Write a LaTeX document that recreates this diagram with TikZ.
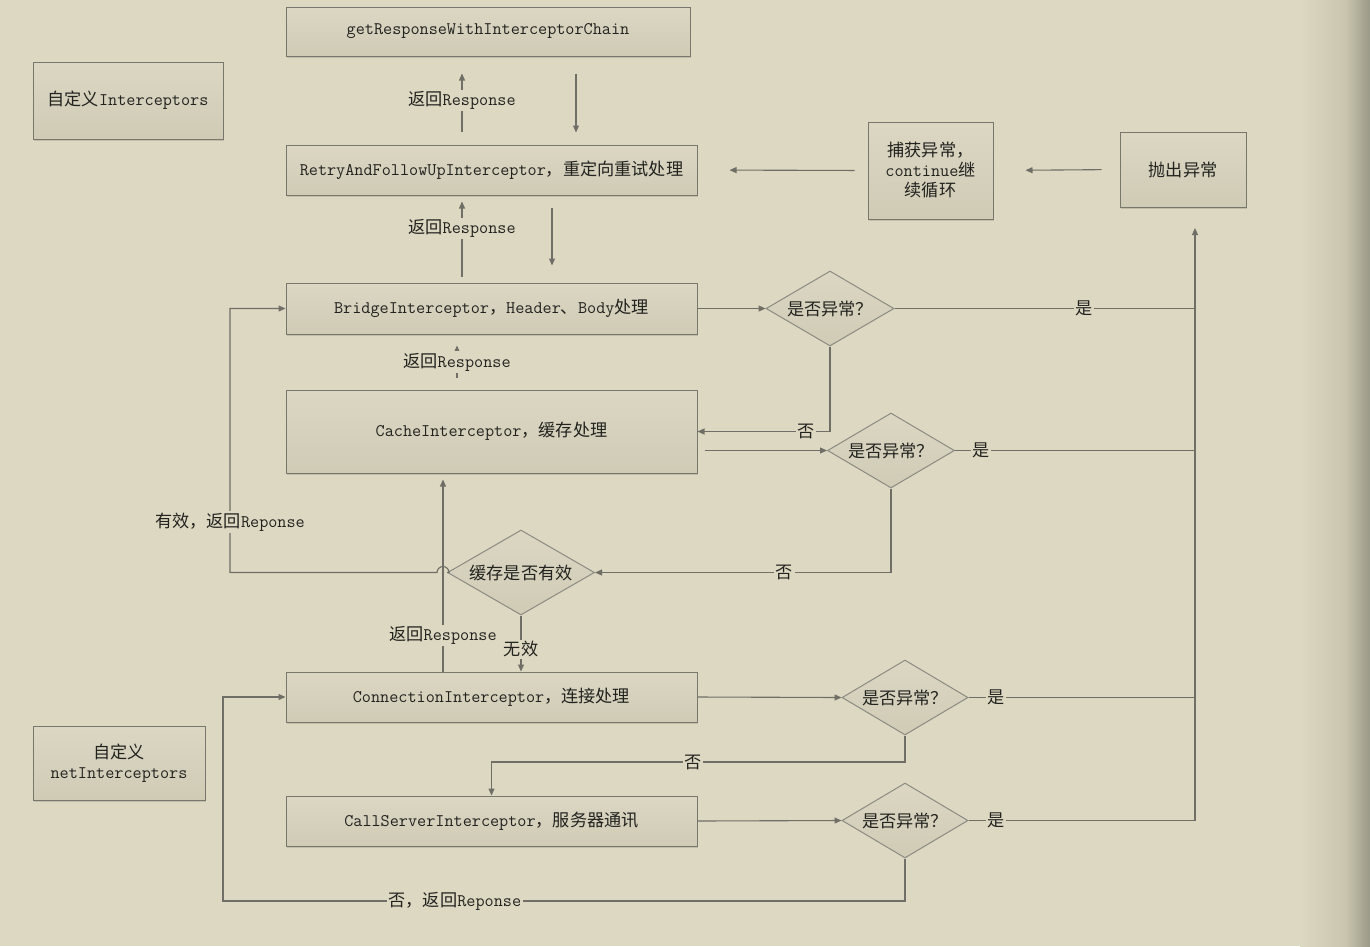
\documentclass[tikz,border=0pt]{standalone}
\usepackage{fontspec}
\newfontfamily\cjk[Scale=0.97]{Noto Sans CJK SC}
\newcommand\zh[1]{{\cjk #1}}
\usetikzlibrary{shapes.geometric,arrows.meta,shadows,calc}

\definecolor{bg}{HTML}{DDD8C1}
\definecolor{shadeA}{HTML}{C9C5AF}
\definecolor{shadeB}{HTML}{9B9987}
\definecolor{edge}{HTML}{77776E}
\definecolor{wire}{HTML}{6F6F67}
\definecolor{boxtop}{HTML}{DBD7C3}
\definecolor{boxbot}{HTML}{CFCBB5}
\definecolor{ink}{HTML}{22221F}

\tikzset{
  box/.style={draw=edge, line width=1pt, top color=boxtop, bottom color=boxbot,
    inner sep=2pt, align=center, text=ink,
    drop shadow={shadow xshift=1pt, shadow yshift=-1.5pt, fill=black, opacity=0.12}},
  dia/.style={diamond, aspect=1.7, draw=edge!85, line width=1pt, top color=boxtop,
    bottom color=boxbot, inner sep=0pt, text=ink},
  wireline/.style={draw=wire, line width=1.1pt},
  arr/.style={wireline, -{Triangle[length=7pt,width=6pt]}},
  lbl/.style={fill=bg, inner sep=1.5pt, text=ink},
}

\begin{document}
\begin{tikzpicture}[x=1pt, y=-1pt, font=\ttfamily\fontsize{17.7}{20}\selectfont]
  % page and darkened right margin
  \fill[bg] (0,0) rectangle (1370,946);
  \shade[left color=bg, right color=shadeA] (1300,0) rectangle (1346,946);
  \shade[left color=shadeA, right color=shadeB] (1345.5,0) rectangle (1370,946);
  \useasboundingbox (0,0) rectangle (1370,946);

  % helper positions
  \coordinate (x576) at (576,0);
  \coordinate (x462) at (462,0);
  \coordinate (x552) at (552,0);
  \coordinate (x457) at (457,0);
  \coordinate (x443) at (443,0);
  \coordinate (y762) at (0,762);
  \coordinate (bus) at (1195,228);
  \coordinate (jmp) at (443,572.5);
  \coordinate (lp) at (230,572.5);
  \coordinate (lb) at (223,901);

  % interceptor boxes
  \node[box, minimum width=404pt, minimum height=49pt] (chain) at (488,31.5)
    {getResponseWithInterceptorChain};
  \node[box, minimum width=411pt, minimum height=50pt] (retry) at (491.5,170)
    {RetryAndFollowUpInterceptor\zh{，重定向重试处理}};
  \node[box, minimum width=411pt, minimum height=51pt] (bridge) at (491.5,308.5)
    {BridgeInterceptor\zh{，}Header\zh{、}Body\zh{处理}};
  \node[box, minimum width=411pt, minimum height=83pt] (cache) at (491.5,431.5)
    {CacheInterceptor\zh{，缓存处理}};
  \node[box, minimum width=411pt, minimum height=50pt] (conn) at (491.5,697)
    {ConnectionInterceptor\zh{，连接处理}};
  \node[box, minimum width=411pt, minimum height=50pt] (call) at (491.5,821)
    {CallServerInterceptor\zh{，服务器通讯}};

  \node[box, minimum width=190pt, minimum height=77pt] (custom) at (128,100.5)
    {\zh{自定义}Interceptors};
  \node[box, minimum width=172pt, minimum height=74pt] (netcustom) at (119,763)
    {\zh{自定义}\\netInterceptors};

  \node[box, minimum width=125pt, minimum height=97pt] (catch) at (930.5,170.5)
    {\zh{捕获异常，}\\continue\zh{继}\\\zh{续循环}};
  \node[box, minimum width=126pt, minimum height=75pt] (throw) at (1183,169.5)
    {\zh{抛出异常}};

  % decisions
  \node[dia, minimum width=128pt, minimum height=75pt] (d1) at (830,308.5) {\zh{是否异常？}};
  \node[dia, minimum width=127pt, minimum height=75pt] (d2) at (891,450.5) {\zh{是否异常？}};
  \node[dia, minimum width=147pt, minimum height=85pt] (valid) at (521,572.5) {\zh{缓存是否有效}};
  \node[dia, minimum width=126pt, minimum height=75pt] (d3) at (905,697.5) {\zh{是否异常？}};
  \node[dia, minimum width=126pt, minimum height=75pt] (d4) at (905,820.5) {\zh{是否异常？}};

  % chain <-> retry <-> bridge <-> cache
  \draw[arr, shorten <=17pt, shorten >=12pt] (chain.south -| x576) -- (retry.north -| x576);
  \draw[arr, shorten <=13pt, shorten >=17pt] (retry.north -| x462) -- (chain.south -| x462)
    node[lbl, midway] {\zh{返回}Response};
  \draw[arr, shorten <=12pt, shorten >=17pt] (retry.south -| x552) -- (bridge.north -| x552);
  \draw[arr, shorten <=6pt, shorten >=6pt] (bridge.north -| x462) -- (retry.south -| x462)
    node[lbl, pos=0.625] {\zh{返回}Response};
  \draw[arr, shorten <=12pt, shorten >=11pt] (cache.north -| x457) -- (bridge.south -| x457)
    node[lbl, midway] {\zh{返回}Response};

  % exception path back to retry
  \draw[arr, shorten <=18pt, shorten >=32pt] (throw.west) -- (catch.east);
  \draw[arr, shorten <=13pt, shorten >=32pt] (catch.west) -- (retry.east);

  % bridge check
  \draw[arr] (bridge.east) -- (d1.west);
  \draw[wireline] (d1.east) -- (d1.east -| bus) node[lbl, pos=0.63] {\zh{是}};
  \draw[arr] (d1.south) |- (cache.east) node[lbl, pos=0.59] {\zh{否}};

  % cache check
  \draw[arr, shorten <=7pt] (cache.east |- d2.west) -- (d2.west);
  \draw[wireline] (d2.east) -- (d2.east -| bus) node[lbl, pos=0.11] {\zh{是}};
  \draw[arr] (d2.south) |- (valid.east) node[lbl, pos=0.68] {\zh{否}};

  % cache hit returns to bridge, hopping over the response line
  \draw[arr] (valid.west) -- ($(jmp)+(6,0)$) arc[start angle=0, end angle=180, radius=6pt]
    -- (lp) |- (bridge.west) node[lbl, pos=0.096] {\zh{有效，返回}Reponse};
  \draw[arr, shorten >=6pt] (conn.north -| x443) -- (cache.south -| x443)
    node[lbl, pos=0.18] {\zh{返回}Response};
  \draw[arr] (valid.south) -- (valid.south |- conn.north) node[lbl, pos=0.6] {\zh{无效}};

  % connection check
  \draw[arr] (conn.east) -- (d3.west);
  \draw[wireline] (d3.east) -- (d3.east -| bus) node[lbl, pos=0.12] {\zh{是}};
  \draw[arr] (d3.south) -- (d3.south |- y762) -| (call.north) node[lbl, pos=0.256] {\zh{否}};

  % call server check, falling back to the connection step
  \draw[arr] (call.east) -- (d4.west);
  \draw[wireline] (d4.east) -- (d4.east -| bus) node[lbl, pos=0.12] {\zh{是}};
  \draw[arr] (d4.south) |- (lb) node[lbl, pos=0.83] {\zh{否，返回}Reponse}
    |- (conn.west);

  % exceptions bus up to the thrower
  \draw[arr] (d4.east -| bus) -- (bus);
\end{tikzpicture}
\end{document}
